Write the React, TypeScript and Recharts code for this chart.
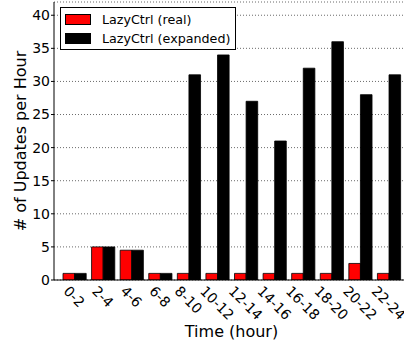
import { BarChart, Bar, XAxis, YAxis, CartesianGrid } from 'recharts';

const hours = ['0-2', '2-4', '4-6', '6-8', '8-10', '10-12', '12-14', '14-16', '16-18', '18-20', '20-22', '22-24'];
const realUpdates = [1, 5, 4.5, 1, 1, 1, 1, 1, 1, 1, 2.5, 1];
const expandedUpdates = [1, 5, 4.5, 1, 31, 34, 27, 21, 32, 36, 28, 31];
const yTicks = [0, 5, 10, 15, 20, 25, 30, 35, 40];

const FONT = '"DejaVu Sans", Verdana, sans-serif';

const data = hours.map((h, i) => ({ name: h, real: realUpdates[i], expanded: expandedUpdates[i] }));

const legendItems = [
  { label: 'LazyCtrl (real)', color: '#ff0000' },
  { label: 'LazyCtrl (expanded)', color: '#000000' },
];

// rough DejaVu Sans advance widths (em) for the tick label chars
const charW: Record<string, number> = { '-': 0.361 };
function textWidth(s: string, size: number) {
  let w = 0;
  for (const c of s) w += charW[c] ?? 0.636;
  return w * size;
}

function RotatedTick(props: any) {
  const { x, y, payload } = props;
  const size = 14;
  const w = textWidth(payload.value, size);
  // matplotlib: rotated label box centred on tick, top aligned under the axis
  const cy = y + 5 + (w + 10) / (2 * Math.SQRT2);
  return (
    <text
      x={x}
      y={cy}
      transform={`rotate(45 ${x} ${cy})`}
      textAnchor="middle"
      dominantBaseline="central"
      fontSize={size}
      fontFamily={FONT}
      fill="#000"
    >
      {payload.value}
    </text>
  );
}

function LegendBox() {
  return (
    <div
      style={{
        position: 'absolute',
        left: 60,
        top: 7,
        border: '1px solid #000',
        background: '#fff',
        width: 174,
        height: 41,
        fontFamily: FONT,
        fontSize: 12.7,
      }}
    >
      {legendItems.map((r, i) => (
        <div key={r.label} style={{ position: 'absolute', left: 4, top: 6 + i * 19, height: 11, display: 'flex', alignItems: 'center' }}>
          <div style={{ width: 24, height: 9, background: r.color, border: '1px solid #000' }} />
          <span style={{ marginLeft: 11, whiteSpace: 'nowrap', lineHeight: '11px' }}>{r.label}</span>
        </div>
      ))}
    </div>
  );
}

export default function App() {
  return (
    <div style={{ position: 'absolute', left: 0, top: 0, width: 404, height: 349, overflow: 'hidden', background: '#fff', fontFamily: FONT }}>
      <BarChart
        width={420}
        height={349}
        data={data}
        margin={{ top: 2, right: 11, bottom: 0, left: 0 }}
        barGap={0}
        barSize={11.6}
      >
        <CartesianGrid vertical={false} stroke="#444" strokeDasharray="1 2" strokeWidth={0.8} />
        <XAxis
          xAxisId="bottom"
          dataKey="name"
          height={69}
          padding={{ left: 6, right: 6 }}
          tickLine={false}
          tickSize={0}
          tickMargin={0}
          axisLine={{ stroke: '#000' }}
          tick={<RotatedTick />}
          interval={0}
          label={{ value: 'Time (hour)', position: 'insideBottom', offset: 12, fontSize: 16, fontFamily: FONT, fill: '#000' }}
        />
        <XAxis
          xAxisId="top"
          dataKey="name"
          orientation="top"
          height={0}
          mirror
          padding={{ left: 6, right: 6 }}
          tickSize={4}
          tickLine={{ stroke: '#000' }}
          axisLine={{ stroke: '#000' }}
          tick={() => <g />}
          interval={0}
        />
        <YAxis
          width={54}
          domain={[0, 42]}
          ticks={yTicks}
          allowDataOverflow
          interval={0}
          tickSize={3}
          tickMargin={1}
          tickLine={{ stroke: '#000' }}
          axisLine={{ stroke: '#000' }}
          tick={{ fontSize: 14, fontFamily: FONT, fill: '#000' }}
          label={{ value: '# of Updates per Hour', angle: -90, position: 'insideLeft', offset: 20, fontSize: 16, fontFamily: FONT, fill: '#000', style: { textAnchor: 'middle' } }}
        />
        <Bar xAxisId="bottom" dataKey="real" name="LazyCtrl (real)" fill="#ff0000" stroke="#000" strokeWidth={0.8} isAnimationActive={false} />
        <Bar xAxisId="bottom" dataKey="expanded" name="LazyCtrl (expanded)" fill="#000000" stroke="#000" strokeWidth={0.8} isAnimationActive={false} />
      </BarChart>
      <LegendBox />
    </div>
  );
}
